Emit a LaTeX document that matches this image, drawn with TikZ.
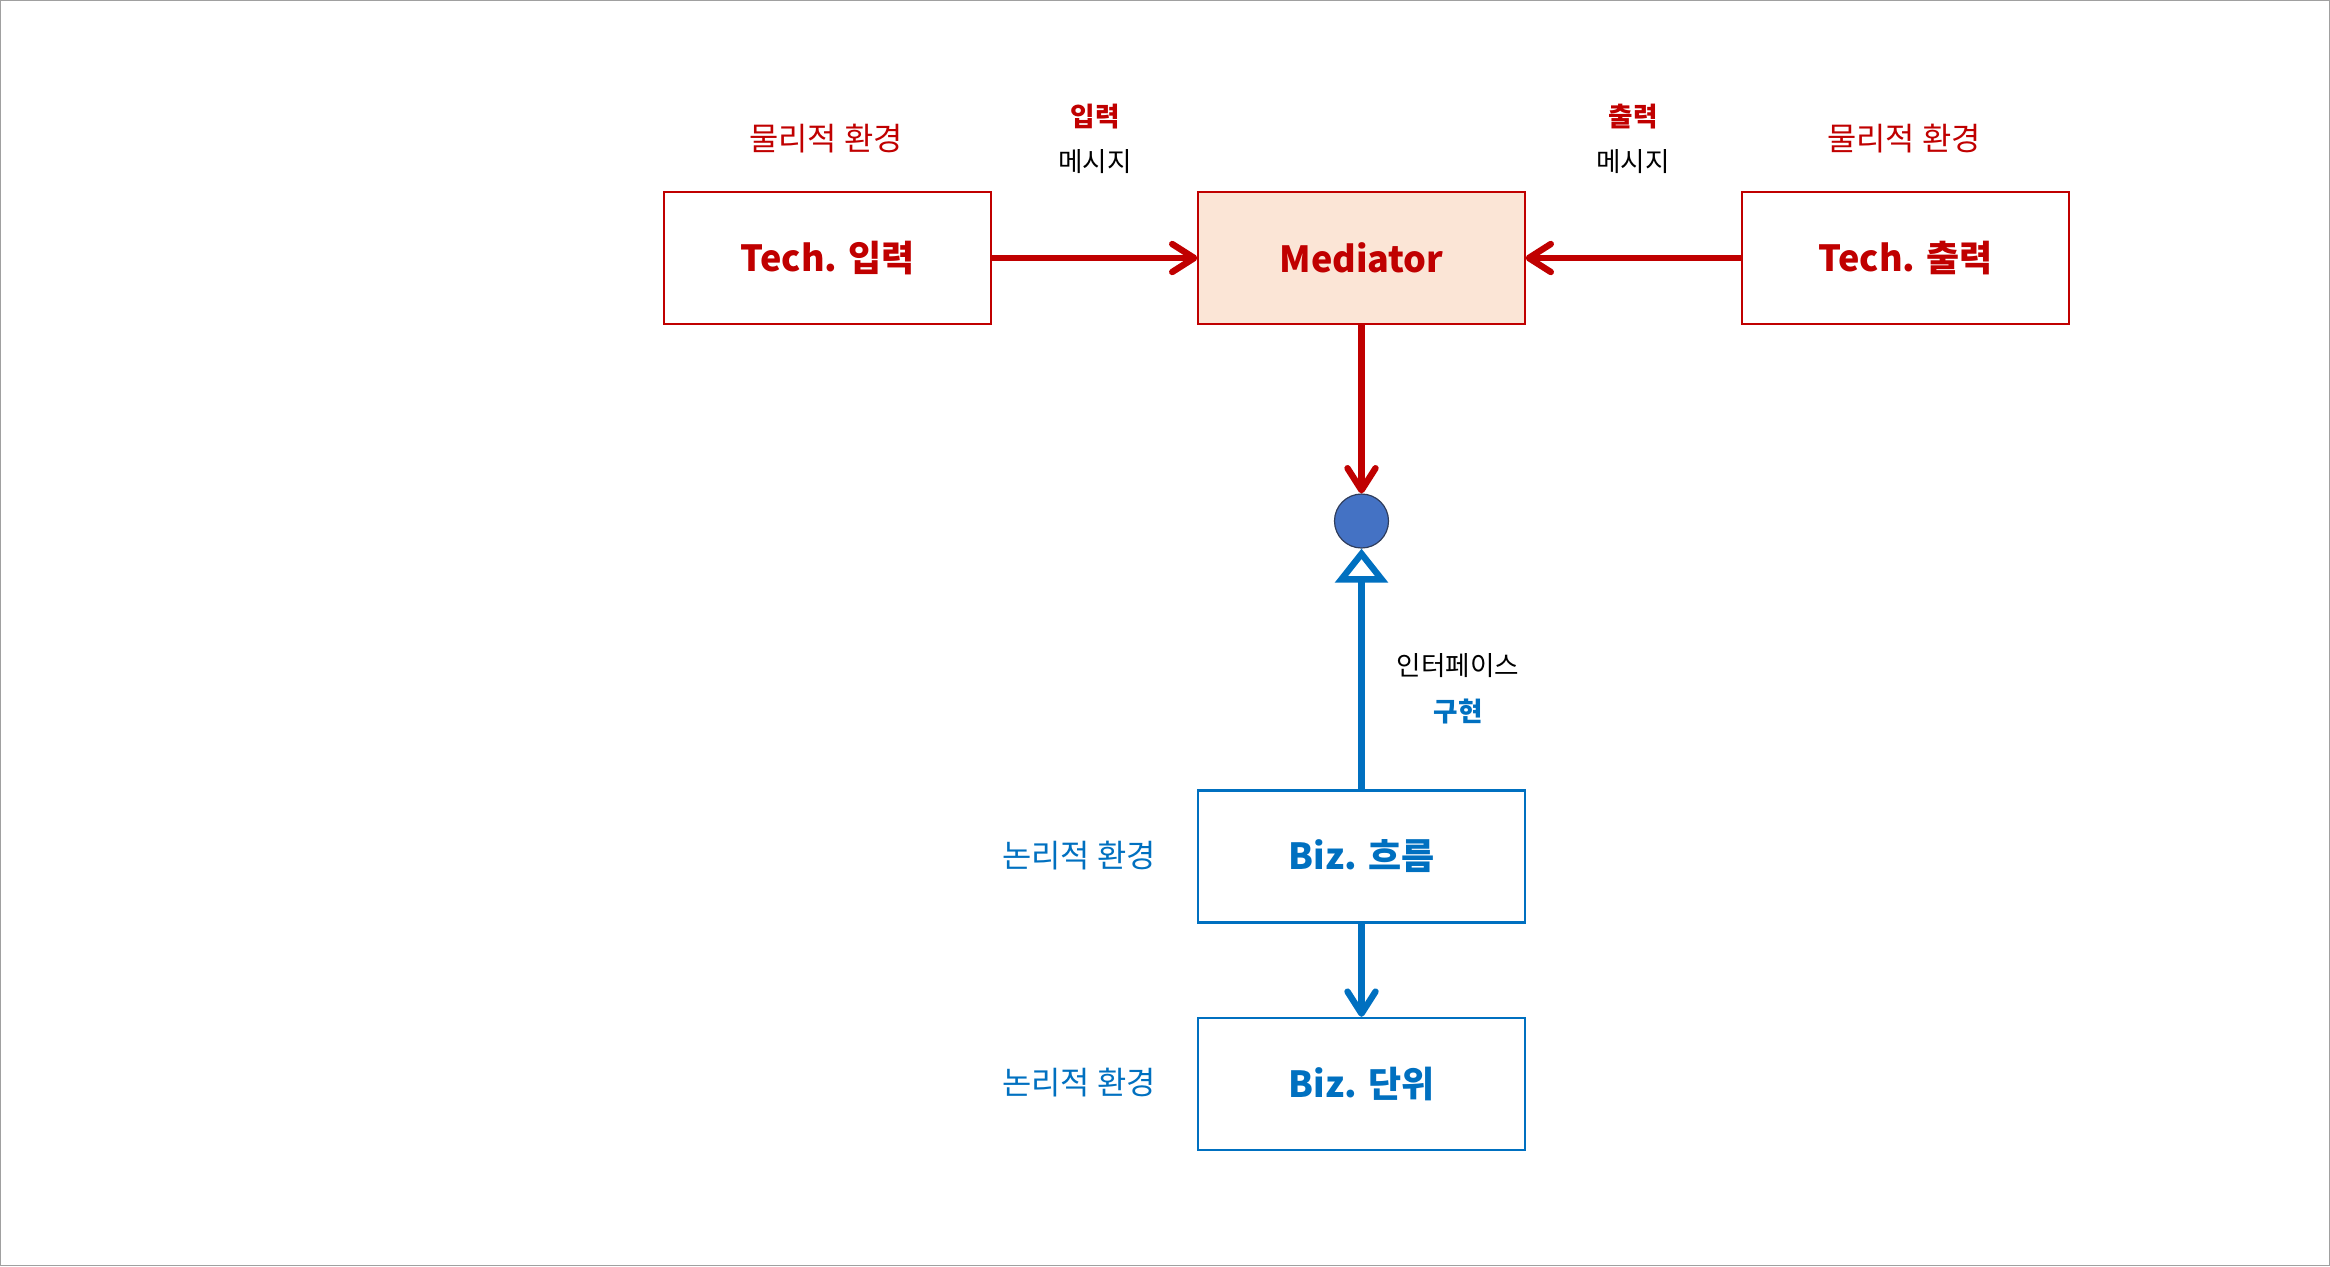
\documentclass[tikz,border=0pt]{standalone}
\usepackage{fontspec}
\setmainfont{Noto Sans CJK KR}
\usetikzlibrary{arrows.meta}

\definecolor{techred}{HTML}{C00000}
\definecolor{bizblue}{HTML}{0070C0}
\definecolor{medfill}{HTML}{FBE5D6}
\definecolor{portfill}{HTML}{4472C4}
\definecolor{portline}{HTML}{2F3D5C}
\definecolor{framegray}{HTML}{A0A0A0}

\begin{document}
\begin{tikzpicture}[x=0.5pt, y=-0.5pt,
		box/.style={draw, line width=1.2pt, fill=white, minimum width=163.5pt, minimum height=66pt, inner sep=0pt,
			font=\fontsize{18}{22}\selectfont\bfseries},
		techbox/.style={box, draw=techred, text=techred},
		bizbox/.style={box, draw=bizblue, text=bizblue},
		envlabel/.style={font=\fontsize{15.9}{18}\selectfont, inner sep=0pt},
		smalllabel/.style={font=\fontsize{13.3}{16}\selectfont, inner sep=0pt},
		boldlabel/.style={smalllabel, font=\fontsize{13.3}{16}\selectfont\bfseries},
		redarrow/.style={draw=techred, line width=3.2pt, -{Straight Barb[length=11pt, width=14pt, round]}},
		bluearrow/.style={draw=bizblue, line width=3.2pt, -{Straight Barb[length=11pt, width=14pt, round]}},
		implarrow/.style={draw=bizblue, line width=3.2pt, -{Triangle[open, length=17pt, width=26pt, fill=white]}}]
		
		\useasboundingbox (0,0) rectangle (2330,1266);
		\draw[framegray, line width=0.7pt] (0.7,0.7) rectangle (2329.3,1265.3);
		
		\node[techbox] (techin) at (827.5,258) {Tech. 입력};
		\node[techbox, draw=techred, fill=medfill, line width=0.6pt] (med) at (1361.5,258) {Mediator};
		\node[techbox] (techout) at (1905.5,258) {Tech. 출력};
		\node[bizbox] (bizflow) at (1361.5,856.5) {Biz. 흐름};
		\node[bizbox] (bizunit) at (1361.5,1084) {Biz. 단위};
		\node[circle, draw=portline, fill=portfill, line width=0.6pt, minimum size=27pt, inner sep=0pt] (port) at (1361.5,521) {};
		
		\node[envlabel, text=techred] (envin) at (826,139) {물리적 환경};
		\node[envlabel, text=techred] (envout) at (1904,139) {물리적 환경};
		\node[envlabel, text=bizblue] (envflow) at (1079,856) {논리적 환경};
		\node[envlabel, text=bizblue] (envunit) at (1079,1083) {논리적 환경};
		
		\node[boldlabel, text=techred] (inword) at (1095,117) {입력};
		\node[smalllabel] (inmsg) at (1095,162) {메시지};
		\node[boldlabel, text=techred] (outword) at (1633,117) {출력};
		\node[smalllabel] (outmsg) at (1633,162) {메시지};
		\node[smalllabel] (ifword) at (1458,666) {인터페이스};
		\node[boldlabel, text=bizblue] (implword) at (1458,711) {구현};
		
		\draw[redarrow] (techin) -- (med);
		\draw[redarrow] (techout) -- (med);
		\draw[redarrow] (med) -- (port);
		\draw[implarrow] (bizflow) -- (port);
		\draw[bluearrow] (bizflow) -- (bizunit);
		\end{tikzpicture}
\end{document}
